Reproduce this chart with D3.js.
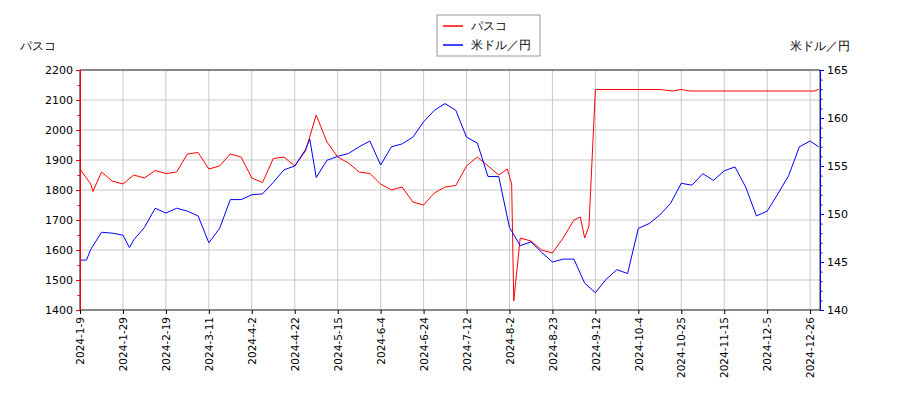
<!DOCTYPE html>
<html><head><meta charset="utf-8">
<script src="https://cdn.jsdelivr.net/npm/d3@7"></script>
<style>body{margin:0;background:#fff}text{font-family:"DejaVu Sans",sans-serif}</style>
</head><body><div id="d3"></div>
<script>
// tick labels (every 15 trading days)
var tickLabels = ["2024-1-9","2024-1-29","2024-2-19","2024-3-11","2024-4-2","2024-4-22","2024-5-15","2024-6-4","2024-6-24","2024-7-12","2024-8-2","2024-8-23","2024-9-12","2024-10-4","2024-10-25","2024-11-15","2024-12-5","2024-12-26"];

// パスコ (left axis), x in tick units
var pascoX = [0,0.25,0.3,0.5,0.75,1,1.25,1.5,1.75,2,2.25,2.5,2.75,3,3.25,3.5,3.75,4,4.25,4.5,4.75,5,5.25,5.5,5.75,6,6.25,6.5,6.75,7,7.25,7.5,7.75,8,8.25,8.5,8.75,9,9.25,9.5,9.75,9.95,10.05,10.1,10.25,10.5,10.75,11,11.25,11.5,11.65,11.75,11.85,12,13.5,13.8,14,14.2,17.1,17.2];
var pascoY = [1870,1820,1795,1860,1830,1820,1850,1840,1865,1855,1860,1920,1925,1870,1880,1920,1910,1840,1825,1905,1910,1880,1930,2050,1960,1910,1890,1860,1855,1820,1800,1810,1760,1750,1790,1810,1815,1880,1910,1880,1850,1870,1820,1430,1640,1630,1600,1590,1640,1700,1710,1640,1680,2135,2135,2130,2135,2130,2130,2135];

// 米ドル／円 (right axis)
var usdX = [0,0.15,0.25,0.5,0.75,1,1.15,1.25,1.5,1.75,2,2.25,2.5,2.75,3,3.25,3.5,3.75,4,4.25,4.5,4.75,5,5.25,5.35,5.5,5.75,6,6.25,6.5,6.75,7,7.25,7.5,7.75,8,8.25,8.5,8.75,9,9.25,9.5,9.75,10,10.25,10.5,10.75,11,11.25,11.5,11.75,12,12.25,12.5,12.75,13,13.25,13.5,13.75,14,14.25,14.5,14.75,15,15.25,15.5,15.75,16,16.25,16.5,16.75,17,17.2];
var usdY = [145.2,145.2,146.3,148.1,148,147.8,146.5,147.3,148.6,150.6,150.1,150.6,150.3,149.8,147,148.5,151.5,151.5,152,152.1,153.3,154.6,155,156.7,157.8,153.8,155.6,156,156.3,157,157.6,155.1,157,157.3,158,159.6,160.8,161.5,160.8,158,157.4,153.9,153.9,148.6,146.7,147.1,146,145,145.3,145.3,142.8,141.8,143.2,144.2,143.8,148.5,149,149.9,151.1,153.2,153,154.2,153.5,154.5,154.9,152.8,149.8,150.3,152.1,154,157,157.6,157];

var leftTicks = d3.range(1400, 2201, 100);
var rightTicks = d3.range(140, 166, 5);

var m = {l: 80, r: 820, t: 70, b: 310};
var svg = d3.select("#d3").append("svg").attr("width", 900).attr("height", 400);

var x = d3.scaleLinear().domain([0, 17.23]).range([m.l, m.r]);
var yL = d3.scaleLinear().domain([1400, 2200]).range([m.b, m.t]);
var yR = d3.scaleLinear().domain([140, 165]).range([m.b, m.t]);

// grid
svg.append("g").selectAll("line").data(d3.range(tickLabels.length)).enter().append("line")
  .attr("x1", d => x(d)).attr("x2", d => x(d)).attr("y1", m.t).attr("y2", m.b)
  .attr("stroke", "#c8c8c8");
svg.append("g").selectAll("line").data(leftTicks).enter().append("line")
  .attr("x1", m.l).attr("x2", m.r).attr("y1", d => yL(d)).attr("y2", d => yL(d))
  .attr("stroke", "#c8c8c8");

// lines
svg.append("path").datum(d3.zip(pascoX, pascoY))
  .attr("d", d3.line().x(d => x(d[0])).y(d => yL(d[1])))
  .attr("fill", "none").attr("stroke", "red").attr("stroke-width", 1);
svg.append("path").datum(d3.zip(usdX, usdY))
  .attr("d", d3.line().x(d => x(d[0])).y(d => yR(d[1])))
  .attr("fill", "none").attr("stroke", "blue").attr("stroke-width", 1);

// frame
svg.append("rect").attr("x", m.l).attr("y", m.t).attr("width", m.r - m.l).attr("height", m.b - m.t)
  .attr("fill", "none").attr("stroke", "#000").attr("stroke-width", 0.8);

// axes
var axL = svg.append("g").attr("transform", `translate(${m.l},0)`)
  .call(d3.axisLeft(yL).tickValues(d3.range(1400, 2201, 50)).tickSize(4).tickFormat(d => d % 100 ? "" : d));
axL.selectAll(".tick line").attr("stroke", "red").attr("x2", (d) => d % 100 ? -2.5 : -4);
axL.select(".domain").attr("stroke", "red");
axL.selectAll("text").attr("font-size", 11).attr("fill", "#000");

var axR = svg.append("g").attr("transform", `translate(${m.r},0)`)
  .call(d3.axisRight(yR).tickValues(d3.range(140, 165.1, 1)).tickSize(4).tickFormat(d => d % 5 ? "" : d));
axR.selectAll(".tick line").attr("stroke", "blue").attr("x2", (d) => d % 5 ? 2.5 : 4);
axR.select(".domain").attr("stroke", "blue");
axR.selectAll("text").attr("font-size", 11).attr("fill", "#000");

var axB = svg.append("g").attr("transform", `translate(0,${m.b})`)
  .call(d3.axisBottom(x).tickValues(d3.range(tickLabels.length)).tickSize(4).tickFormat(i => tickLabels[i]));
axB.select(".domain").remove();
axB.selectAll("text").attr("font-size", 10.5)
  .attr("transform", "rotate(-90)").attr("text-anchor", "end")
  .attr("x", -7).attr("y", 0).attr("dy", "0.35em");

// axis titles
svg.append("text").attr("x", 20).attr("y", 50).attr("font-size", 11.5).text("パスコ");
svg.append("text").attr("x", 850).attr("y", 50).attr("font-size", 11.5).attr("text-anchor", "end").text("米ドル／円");

// legend
var lg = svg.append("g").attr("transform", "translate(437,15)");
lg.append("rect").attr("width", 103).attr("height", 41).attr("fill", "#fff").attr("stroke", "#999");
[["パスコ", "red"], ["米ドル／円", "blue"]].forEach(function (s, i) {
  lg.append("line").attr("x1", 6).attr("x2", 26).attr("y1", 11 + i * 19).attr("y2", 11 + i * 19)
    .attr("stroke", s[1]).attr("stroke-width", 1.5);
  lg.append("text").attr("x", 34).attr("y", 15 + i * 19).attr("font-size", 12).text(s[0]);
});
</script>
</body></html>
